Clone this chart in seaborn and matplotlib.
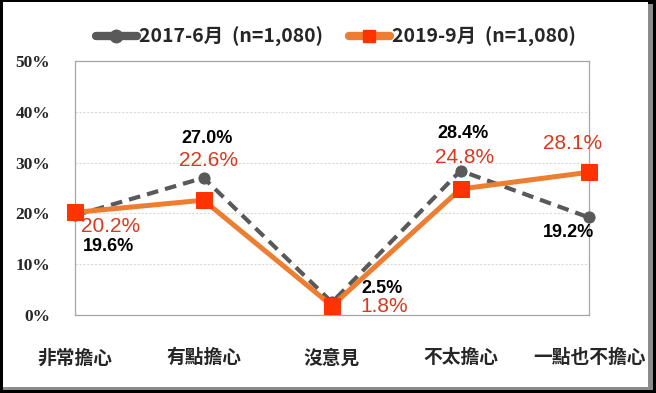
import numpy as np
import pandas as pd
import matplotlib
matplotlib.use('Agg')
import matplotlib.pyplot as plt
import seaborn as sns
from matplotlib.lines import Line2D
from matplotlib.patches import Rectangle
from matplotlib.ticker import FuncFormatter

# Data
categories = ['非常擔心', '有點擔心', '沒意見', '不太擔心', '一點也不擔心']
series_names = ['2017-6月  (n=1,080)', '2019-9月  (n=1,080)']
values_2017 = [19.6, 27.0, 2.5, 28.4, 19.2]
values_2019 = [20.2, 22.6, 1.8, 24.8, 28.1]
y_ticks = [0, 10, 20, 30, 40, 50]

# label offsets in pixels (dx, dy) from each point
offsets_2017 = [(33, -31), (4, 39), (50, 14), (3, 37), (-20, -15)]
offsets_2019 = [(36, -14), (5, 40), (52, -1), (4, 32), (-16, 29)]

GRAY = '#595959'
ORANGE = '#ED7D31'
MARKER_RED = '#FF3300'
LABEL_RED = '#D9381E'
CJK = ['Noto Sans CJK TC', 'DejaVu Sans']

sns.set_style('white')
plt.rcParams['font.family'] = CJK

df = pd.DataFrame({'cat': categories, 'a': values_2017, 'b': values_2019})
df['pos'] = np.arange(len(categories))

fig = plt.figure(figsize=(6.56, 3.93), dpi=100)
fig.patch.set_facecolor('black')
# white card with a gray shadow edge on the right/bottom
fig.patches.append(Rectangle((3 / 656, 3 / 393), 650 / 656, 386 / 393, transform=fig.transFigure,
                             facecolor='#8c8c8c', edgecolor='none', zorder=-2))
fig.patches.append(Rectangle((3 / 656, 6 / 393), 645 / 656, 385 / 393, transform=fig.transFigure,
                             facecolor='white', edgecolor='none', zorder=-1))

ax = fig.add_axes([75 / 656, 1 - 315 / 393, 514 / 656, 254 / 393])
ax.set_facecolor('white')

sns.lineplot(data=df, x='pos', y='a', ax=ax, color=GRAY, linewidth=3, linestyle=(0, (2.8, 1.7)),
             marker='o', markersize=8, markerfacecolor=GRAY, markeredgecolor=GRAY, zorder=3)
sns.lineplot(data=df, x='pos', y='b', ax=ax, color=ORANGE, linewidth=3.6,
             marker='s', markersize=11, markerfacecolor=MARKER_RED, markeredgecolor=MARKER_RED, zorder=4)
for line in ax.lines:
    line.set_clip_on(False)

# data labels
for i, (v, off) in enumerate(zip(values_2017, offsets_2017)):
    ax.annotate(f'{v:.1f}%', xy=(i, v), xytext=off, textcoords='offset pixels', ha='center', va='center',
                fontsize=13, fontweight='bold', color='black', family=['Liberation Sans'], zorder=6)
for i, (v, off) in enumerate(zip(values_2019, offsets_2019)):
    ax.annotate(f'{v:.1f}%', xy=(i, v), xytext=off, textcoords='offset pixels', ha='center', va='center',
                fontsize=15, color=LABEL_RED, family=['Liberation Sans'], zorder=6)

ax.set_xlim(0, len(categories) - 1)
ax.set_ylim(0, 50)
ax.set_xticks(df['pos'])
ax.set_xticklabels(categories, fontsize=13.5, fontweight='bold', family=CJK)
ax.set_yticks(y_ticks)
ax.yaxis.set_major_formatter(FuncFormatter(lambda y, _: f'{y:.0f}%'))
for t in ax.get_yticklabels():
    t.set_fontfamily(['Liberation Serif'])
    t.set_fontweight('bold')
    t.set_fontsize(12.5)
ax.set_xlabel('')
ax.set_ylabel('')

ax.tick_params(axis='x', direction='in', length=5, width=0.8, color='#a6a6a6', pad=24)
ax.tick_params(axis='y', direction='out', length=4, width=0.8, color='#a6a6a6', pad=14)
ax.grid(axis='y', color='#d9d9d9', linestyle=(0, (2, 1.5)), linewidth=0.8)
ax.grid(axis='x', visible=False)
for s in ax.spines.values():
    s.set_color('#a6a6a6')
    s.set_linewidth(0.9)

handles = [
    Line2D([], [], color=GRAY, linewidth=6, solid_capstyle='round', marker='o', markersize=9,
           markerfacecolor=GRAY, markeredgecolor=GRAY),
    Line2D([], [], color=ORANGE, linewidth=6, solid_capstyle='round', marker='s', markersize=9,
           markerfacecolor=MARKER_RED, markeredgecolor=MARKER_RED),
]
fig.legend(handles, series_names, loc='center', bbox_to_anchor=(336 / 656, 1 - 37 / 393), ncol=2,
           frameon=False, handlelength=2.1, handletextpad=0.15, columnspacing=1.3,
           prop={'family': CJK, 'weight': 'bold', 'size': 14})

fig.savefig('out.png', dpi=100, facecolor=fig.get_facecolor())
